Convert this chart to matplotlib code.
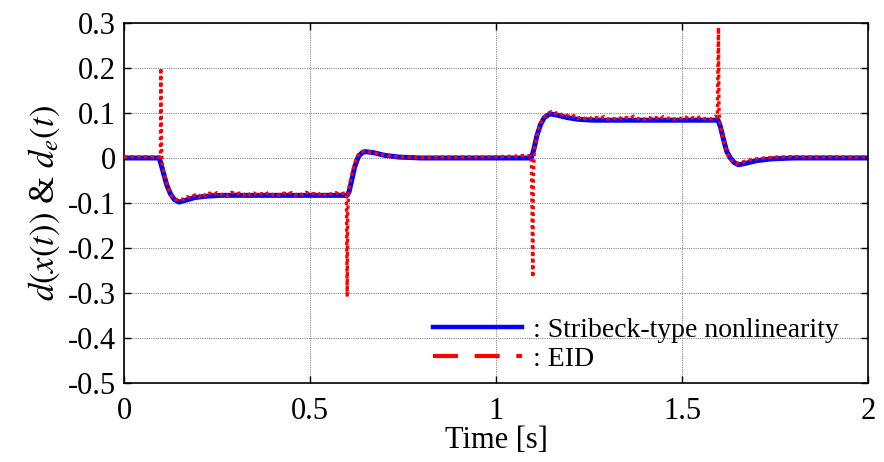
import matplotlib
matplotlib.use("Agg")
import matplotlib.pyplot as plt
from matplotlib.lines import Line2D

true_pts = [(0.0, 0.0), (0.095, 0.0), (0.105, -0.03), (0.115, -0.06), (0.125, -0.08),
            (0.135, -0.092), (0.148, -0.098), (0.165, -0.094), (0.19, -0.088),
            (0.22, -0.085), (0.26, -0.083), (0.4, -0.083), (0.6, -0.083),
            (0.605, -0.075), (0.612, -0.05), (0.62, -0.02), (0.63, 0.003),
            (0.64, 0.012), (0.65, 0.014), (0.67, 0.012), (0.7, 0.006), (0.74, 0.002),
            (0.8, 0.0), (1.095, 0.0), (1.102, 0.02), (1.11, 0.05), (1.12, 0.075),
            (1.13, 0.09), (1.145, 0.098), (1.16, 0.096), (1.19, 0.09), (1.22, 0.086),
            (1.26, 0.084), (1.4, 0.084), (1.597, 0.084), (1.603, 0.07), (1.612, 0.04),
            (1.62, 0.015), (1.63, 0.0), (1.64, -0.01), (1.652, -0.015), (1.67, -0.012),
            (1.7, -0.006), (1.74, -0.002), (1.8, 0.0), (2.0, 0.0)]

# EID estimate d_e(t)
eid_pts = [(0.0, 0.002), (0.02, 0.003), (0.04, 0.002), (0.06, 0.003), (0.08, 0.002),
           (0.098, 0.002), (0.099, 0.2), (0.1005, 0.05), (0.102, -0.01), (0.108, -0.035),
           (0.116, -0.06), (0.124, -0.078), (0.132, -0.09), (0.14, -0.093), (0.15, -0.09),
           (0.16, -0.092), (0.17, -0.086), (0.18, -0.089), (0.19, -0.082), (0.2, -0.087),
           (0.21, -0.079), (0.22, -0.084), (0.23, -0.078), (0.24, -0.083), (0.25, -0.077),
           (0.26, -0.082), (0.27, -0.079), (0.28, -0.084), (0.29, -0.076), (0.3, -0.081),
           (0.31, -0.078), (0.32, -0.083), (0.33, -0.077), (0.34, -0.082), (0.35, -0.078),
           (0.36, -0.084), (0.37, -0.079), (0.38, -0.081), (0.39, -0.076), (0.4, -0.082),
           (0.41, -0.079), (0.42, -0.084), (0.43, -0.078), (0.44, -0.081), (0.45, -0.077),
           (0.46, -0.083), (0.47, -0.078), (0.48, -0.082), (0.49, -0.076), (0.5, -0.081),
           (0.51, -0.079), (0.52, -0.083), (0.53, -0.077), (0.54, -0.082), (0.55, -0.078),
           (0.56, -0.081), (0.57, -0.077), (0.58, -0.082), (0.59, -0.078), (0.598, -0.08),
           (0.6, -0.305), (0.6015, -0.12), (0.604, -0.07), (0.61, -0.045), (0.618, -0.018),
           (0.626, 0.003), (0.636, 0.013), (0.646, 0.016), (0.656, 0.014), (0.67, 0.012),
           (0.69, 0.008), (0.71, 0.005), (0.73, 0.003), (0.76, 0.002), (0.8, 0.001),
           (0.85, 0.002), (0.9, 0.002), (0.95, 0.002), (1.0, 0.003), (1.05, 0.004),
           (1.08, 0.006), (1.095, 0.005), (1.099, -0.265), (1.1005, -0.05), (1.103, 0.02),
           (1.11, 0.05), (1.118, 0.075), (1.128, 0.09), (1.138, 0.098), (1.148, 0.103),
           (1.158, 0.099), (1.168, 0.102), (1.178, 0.095), (1.188, 0.097), (1.198, 0.091),
           (1.21, 0.094), (1.22, 0.088), (1.23, 0.092), (1.24, 0.087), (1.25, 0.091),
           (1.26, 0.086), (1.27, 0.09), (1.28, 0.087), (1.29, 0.092), (1.3, 0.086),
           (1.31, 0.089), (1.32, 0.087), (1.33, 0.091), (1.34, 0.086), (1.35, 0.09),
           (1.36, 0.088), (1.37, 0.093), (1.38, 0.087), (1.39, 0.089), (1.4, 0.086),
           (1.41, 0.091), (1.42, 0.087), (1.43, 0.09), (1.44, 0.086), (1.45, 0.092),
           (1.46, 0.088), (1.47, 0.089), (1.48, 0.086), (1.49, 0.09), (1.5, 0.087),
           (1.51, 0.091), (1.52, 0.086), (1.53, 0.09), (1.54, 0.088), (1.55, 0.092),
           (1.56, 0.087), (1.57, 0.089), (1.58, 0.086), (1.59, 0.093), (1.595, 0.09),
           (1.598, 0.29), (1.5995, 0.1), (1.602, 0.075), (1.61, 0.045), (1.618, 0.02),
           (1.626, 0.002), (1.636, -0.009), (1.646, -0.012), (1.656, -0.011),
           (1.67, -0.007), (1.69, -0.003), (1.72, 0.0), (1.75, 0.002), (1.8, 0.003),
           (1.85, 0.002), (1.9, 0.003), (1.95, 0.002), (2.0, 0.003)]

t_true, d_true = zip(*true_pts)
t_eid, d_eid = zip(*eid_pts)

xticks = [0, 0.5, 1, 1.5, 2]
xticklabels = ["0", "0.5", "1", "1.5", "2"]
yticks = [-0.5, -0.4, -0.3, -0.2, -0.1, 0, 0.1, 0.2, 0.3]
yticklabels = ["-0.5", "-0.4", "-0.3", "-0.2", "-0.1", "0", "0.1", "0.2", "0.3"]

plt.rcParams["font.family"] = ["Liberation Serif", "DejaVu Serif"]
plt.rcParams["mathtext.fontset"] = "stix"
plt.rcParams["axes.unicode_minus"] = False

fig = plt.figure(figsize=(8.84, 4.62), dpi=100)
ax = fig.add_axes([124 / 884, 1 - 383 / 462, 744 / 884, 360 / 462])

ax.plot(t_true, d_true, color="#0000ff", lw=3.6, solid_capstyle="butt", zorder=2)
ax.plot(t_eid, d_eid, color="#ff0000", lw=2.4, linestyle=(0, (1, 1)), zorder=3)

ax.set_xlim(0, 2)
ax.set_ylim(-0.5, 0.3)
ax.set_xticks(xticks)
ax.set_xticklabels(xticklabels)
ax.set_yticks(yticks)
ax.set_yticklabels(yticklabels)
ax.tick_params(direction="in", length=5, width=1, top=True, right=True,
               labelsize=22)
ax.tick_params(axis="x", pad=10)
ax.tick_params(axis="y", pad=6)
ax.grid(True, color="#888888", linestyle=(0, (1, 1)), lw=0.8)
for sp in ax.spines.values():
    sp.set_linewidth(1.2)

ax.set_xlabel("Time [s]", fontsize=22, labelpad=0)
ax.set_ylabel(r"$d(x(t))$ & $d_e(t)$", fontsize=25, labelpad=4)

handles = [Line2D([], [], color="#0000ff", lw=3.2),
           Line2D([], [], color="#ff0000", lw=3.0, linestyle=(0, (6, 4)))]
ax.legend(handles, [": Stribeck-type nonlinearity", ": EID"], loc="lower left",
          bbox_to_anchor=(0.415, 0.03), frameon=False, fontsize=20,
          handlelength=3.2, handletextpad=0.4, borderpad=0, borderaxespad=0,
          labelspacing=0.15)

fig.savefig("out.png", dpi=100)
